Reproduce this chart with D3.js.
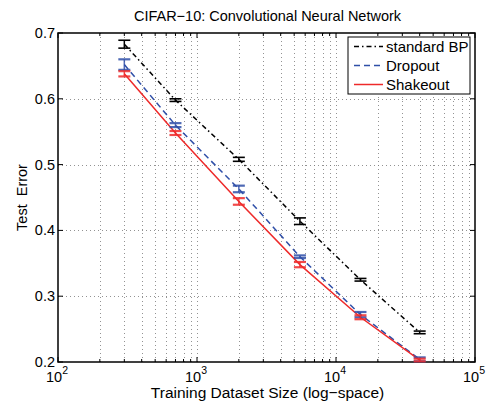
<!DOCTYPE html>
<html>
<head>
<meta charset="utf-8">
<script src="https://cdn.jsdelivr.net/npm/d3@7"></script>
<style>
  body { margin: 0; background: #fff; }
  text { font-family: "Liberation Sans", Arial, sans-serif; fill: #000; }
</style>
</head>
<body>
<div id="chart"></div>
<script>
// training set sizes (log x)
const sizes = [300, 700, 2000, 5500, 15000, 40000];

const bpMean = [0.683, 0.598, 0.508, 0.414, 0.325, 0.245];
const bpErr = [0.006, 0.002, 0.003, 0.005, 0.002, 0.002];

const dropMean = [0.652, 0.560, 0.463, 0.360, 0.272, 0.204];
const dropErr = [0.008, 0.003, 0.005, 0.002, 0.004, 0.003];

const shakeMean = [0.638, 0.548, 0.444, 0.348, 0.268, 0.203];
const shakeErr = [0.004, 0.003, 0.005, 0.004, 0.003, 0.002];

const yTicks = [0.2, 0.3, 0.4, 0.5, 0.6, 0.7];
const xTicks = [100, 1000, 10000, 100000];

const series = [
  { name: "standard BP", mean: bpMean, err: bpErr, color: "#000000", dash: "5,3,1.5,3", capW: 1.6, capOp: 1 },
  { name: "Dropout", mean: dropMean, err: dropErr, color: "#2f4fa8", dash: "6,4", capW: 2.2, capOp: 0.85 },
  { name: "Shakeout", mean: shakeMean, err: shakeErr, color: "#ee2a2a", dash: null, capW: 2.2, capOp: 0.85 }
];

const W = 487, H = 403;
const margin = { top: 33, right: 12, bottom: 41, left: 58 };
const width = W - margin.left - margin.right,
  height = H - margin.top - margin.bottom;

const svg = d3.select("#chart").append("svg")
  .attr("width", W).attr("height", H);

const g = svg.append("g")
  .attr("transform", "translate(" + margin.left + "," + margin.top + ")");

const x = d3.scaleLog().domain([100, 100000]).range([0, width]);
const y = d3.scaleLinear().domain([0.2, 0.7]).range([height, 0]);

// minor positions for log axis
let minors = [];
for (let d = 100; d < 100000; d *= 10) {
  for (let k = 2; k <= 9; k++) minors.push(d * k);
}

// dotted grid
g.append("g").selectAll("line.gx")
  .data(minors.concat([1000, 10000]))
  .join("line")
  .attr("x1", d => Math.round(x(d)) + 0.5).attr("x2", d => Math.round(x(d)) + 0.5)
  .attr("y1", 0).attr("y2", height)
  .attr("stroke", "#777").attr("stroke-width", 0.8)
  .attr("stroke-dasharray", "1,3");

g.append("g").selectAll("line.gy")
  .data(yTicks.slice(1, -1))
  .join("line")
  .attr("x1", 0).attr("x2", width)
  .attr("y1", d => Math.round(y(d)) + 0.5).attr("y2", d => Math.round(y(d)) + 0.5)
  .attr("stroke", "#777").attr("stroke-width", 0.8)
  .attr("stroke-dasharray", "1,3");

// inward ticks on all four sides
const tk = g.append("g").attr("stroke", "#000").attr("stroke-width", 1);
xTicks.forEach(d => {
  tk.append("line").attr("x1", x(d)).attr("x2", x(d)).attr("y1", height).attr("y2", height - 5);
  tk.append("line").attr("x1", x(d)).attr("x2", x(d)).attr("y1", 0).attr("y2", 5);
});
minors.forEach(d => {
  tk.append("line").attr("x1", x(d)).attr("x2", x(d)).attr("y1", height).attr("y2", height - 3);
  tk.append("line").attr("x1", x(d)).attr("x2", x(d)).attr("y1", 0).attr("y2", 3);
});
yTicks.forEach(d => {
  tk.append("line").attr("x1", 0).attr("x2", 5).attr("y1", y(d)).attr("y2", y(d));
  tk.append("line").attr("x1", width).attr("x2", width - 5).attr("y1", y(d)).attr("y2", y(d));
});

// box
g.append("rect")
  .attr("x", 0).attr("y", 0).attr("width", width).attr("height", height)
  .attr("fill", "none").attr("stroke", "#000").attr("stroke-width", 1.5);

// y tick labels
g.append("g").selectAll("text")
  .data(yTicks)
  .join("text")
  .attr("x", -3).attr("y", d => y(d) + 5)
  .attr("text-anchor", "end")
  .style("font-size", "14.5px")
  .text(d => d.toFixed(1));

// x tick labels: 10 with superscript
const xl = g.append("g").selectAll("text")
  .data(xTicks)
  .join("text")
  .attr("x", d => x(d) - 1).attr("y", height + 20)
  .attr("text-anchor", "middle")
  .style("font-size", "14.5px");
xl.append("tspan").text("10");
xl.append("tspan").attr("dy", -8).style("font-size", "10.5px")
  .text(d => Math.round(Math.log10(d)));

// lines
const line = d3.line()
  .x((d, i) => x(sizes[i]))
  .y(d => y(d));

series.forEach(s => {
  g.append("path")
    .datum(s.mean)
    .attr("fill", "none")
    .attr("stroke", s.color)
    .attr("stroke-width", 1.5)
    .attr("stroke-dasharray", s.dash)
    .attr("d", line);
});

// error bars
series.forEach(s => {
  const eb = g.append("g").attr("stroke", s.color).attr("stroke-opacity", s.capOp);
  s.mean.forEach((m, i) => {
    const cx = x(sizes[i]);
    const lo = y(m - s.err[i]), hi = y(m + s.err[i]);
    eb.append("line").attr("x1", cx).attr("x2", cx).attr("y1", lo).attr("y2", hi)
      .attr("stroke-width", 1.5);
    eb.append("line").attr("x1", cx - 6).attr("x2", cx + 6).attr("y1", lo).attr("y2", lo)
      .attr("stroke-width", s.capW);
    eb.append("line").attr("x1", cx - 6).attr("x2", cx + 6).attr("y1", hi).attr("y2", hi)
      .attr("stroke-width", s.capW);
  });
});

// legend
const lg = g.append("g").attr("transform", "translate(" + (x(100000) - 127) + ",4)");
lg.append("rect")
  .attr("x", 0).attr("y", 0).attr("width", 122).attr("height", 57)
  .attr("fill", "#fff").attr("stroke", "#000").attr("stroke-width", 1);
series.forEach((s, i) => {
  const ly = 9.5 + i * 19;
  lg.append("line")
    .attr("x1", 6).attr("x2", 35).attr("y1", ly).attr("y2", ly)
    .attr("stroke", s.color).attr("stroke-width", 1.5)
    .attr("stroke-dasharray", s.dash);
  lg.append("text")
    .attr("x", 38).attr("y", ly + 5.5)
    .style("font-size", "15px")
    .text(s.name);
});

// title and axis labels
svg.append("text")
  .attr("x", margin.left + width / 2 + 1).attr("y", 21)
  .attr("text-anchor", "middle")
  .style("font-size", "14.5px")
  .text("CIFAR\u221210: Convolutional Neural Network");

svg.append("text")
  .attr("x", margin.left + width / 2 + 1).attr("y", 398)
  .attr("text-anchor", "middle")
  .style("font-size", "15.5px")
  .text("Training Dataset Size (log\u2212space)");

svg.append("text")
  .attr("transform", "translate(27," + (margin.top + height / 2) + ") rotate(-90)")
  .attr("text-anchor", "middle")
  .style("font-size", "14.5px")
  .attr("xml:space", "preserve")
  .text("Test  Error");
</script>
</body>
</html>
